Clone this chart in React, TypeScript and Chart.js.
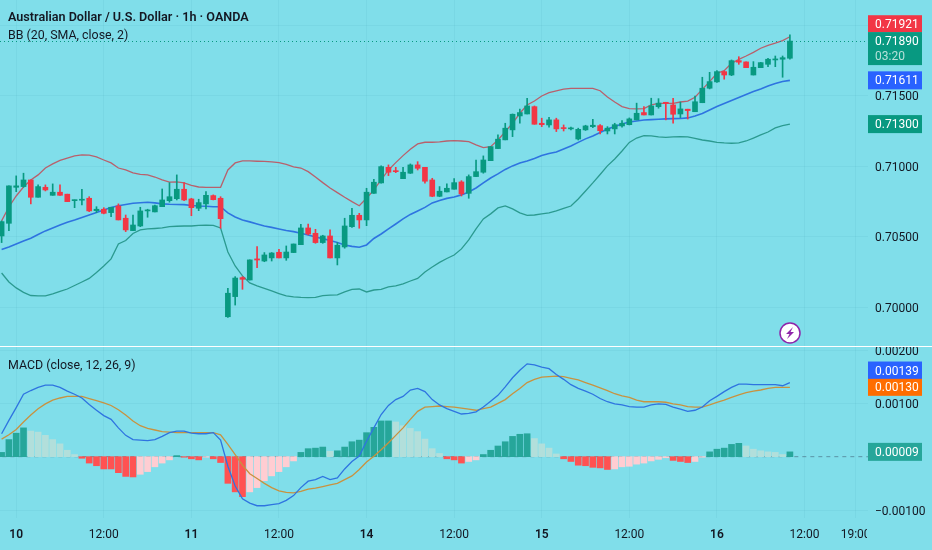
import { useEffect, useRef } from 'react';
import Chart from 'chart.js/auto';

// prices and MACD values are kept in units of 0.00001
const opens = [
  70505,70595,70851,70856,70903,70780,70851,70794,70816,70802,
  70756,70759,70773,70685,70695,70671,70718,70631,70543,70576,
  70683,70676,70713,70756,70770,70837,70768,70702,70733,70792,
  70773,69931,70074,70209,70192,70342,70327,70349,70389,70349,
  70387,70443,70562,70524,70458,70505,70349,70427,70571,70652,
  70619,70808,70882,70993,70969,70912,70951,71010,70993,70903,
  70787,70818,70837,70889,70808,70927,70958,71040,71126,71188,
  71259,71358,71372,71424,71306,71294,71330,71275,71266,71194,
  71259,71282,71289,71251,71266,71287,71296,71330,71382,71365,
  71424,71455,71436,71372,71406,71388,71452,71555,71600,71673,
  71649,71751,71742,71649,71701,71725,71756,71761,71768,
];
const highs = [
  70612,70861,70932,70951,70903,70868,70868,70875,70868,70802,
  70761,70837,70784,70713,70706,70709,70733,70654,70654,70709,
  70695,70725,70839,70884,70939,70884,70773,70766,70820,70797,
  70784,70133,70216,70216,70335,70429,70387,70387,70410,70434,
  70448,70588,70590,70552,70510,70548,70458,70631,70702,70666,
  70844,70908,71003,71010,70993,70993,71017,71033,70993,70915,
  70856,70875,70912,70898,70939,71045,71074,71140,71223,71306,
  71372,71406,71484,71429,71342,71349,71342,71294,71278,71271,
  71292,71334,71296,71282,71306,71325,71344,71449,71424,71484,
  71481,71455,71484,71457,71406,71500,71633,71668,71680,71678,
  71756,71779,71742,71744,71739,71768,71784,71784,71934,
];
const lows = [
  70458,70543,70820,70851,70733,70780,70825,70794,70794,70749,
  70706,70725,70678,70671,70662,70642,70619,70536,70543,70571,
  70638,70676,70713,70745,70761,70756,70649,70685,70697,70761,
  70560,69927,70014,70126,70192,70279,70322,70327,70349,70332,
  70387,70443,70512,70453,70453,70349,70299,70418,70566,70560,
  70578,70808,70880,70934,70955,70912,70949,70974,70880,70784,
  70784,70818,70837,70789,70773,70927,70951,71040,71126,71188,
  71211,71306,71372,71299,71282,71278,71247,71251,71259,71187,
  71255,71275,71230,71230,71230,71278,71294,71330,71365,71365,
  71413,71330,71306,71346,71336,71388,71452,71550,71597,71619,
  71644,71725,71701,71649,71701,71708,71708,71633,71761,
];
const closes = [
  70607,70861,70861,70903,70780,70856,70832,70816,70794,70749,
  70761,70766,70683,70695,70666,70709,70619,70548,70583,70683,
  70690,70720,70761,70784,70837,70761,70706,70742,70794,70763,
  70628,70098,70206,70197,70335,70334,70370,70384,70349,70391,
  70448,70562,70519,70458,70505,70349,70439,70576,70652,70619,
  70816,70887,70998,70958,70962,70958,71010,70986,70894,70787,
  70823,70844,70884,70804,70927,70962,71045,71140,71193,71271,
  71370,71382,71429,71299,71296,71330,71266,71268,71271,71263,
  71287,71292,71253,71271,71296,71306,71337,71377,71365,71429,
  71449,71448,71370,71408,71396,71459,71555,71602,71673,71649,
  71751,71740,71701,71704,71737,71761,71763,71772,71890,
];

const bbUpper = [
  70612,70711,70789,70853,70903,70939,70988,71017,71042,71059,
  71074,71081,71079,71067,71045,71024,70988,70974,70953,70942,
  70939,70924,70903,70887,70889,70882,70864,70853,70851,70851,
  70851,70974,71024,71038,71038,71036,71035,71031,71026,71013,
  70996,70988,70962,70924,70884,70846,70813,70780,70749,70720,
  70773,70832,70903,70974,71026,71076,71121,71159,71171,71171,
  71173,71180,71182,71180,71175,71152,71133,71140,71187,71246,
  71306,71377,71436,71464,71500,71523,71537,71549,71554,71554,
  71554,71554,71537,71493,71457,71424,71410,71408,71410,71436,
  71448,71448,71448,71457,71464,71491,71547,71602,71661,71680,
  71732,71760,71784,71810,71839,71860,71875,71893,71921,
];
const bbBasis = [
  70408,70427,70448,70470,70489,70516,70541,70562,70583,70603,
  70619,70637,70654,70672,70690,70708,70720,70729,70738,70741,
  70745,70740,70733,70730,70729,70728,70722,70718,70716,70713,
  70713,70669,70640,70619,70605,70590,70576,70566,70555,70544,
  70536,70524,70512,70498,70486,70473,70459,70441,70431,70425,
  70441,70487,70519,70555,70590,70626,70658,70683,70708,70740,
  70757,70772,70782,70797,70818,70846,70882,70917,70946,70978,
  71003,71024,71038,71056,71077,71091,71102,71123,71145,71170,
  71195,71216,71241,71265,71283,71301,71315,71322,71329,71332,
  71334,71337,71339,71340,71344,71358,71376,71400,71425,71446,
  71468,71489,71511,71531,71550,71571,71589,71603,71611,
];
const bbLower = [
  70242,70178,70136,70104,70082,70079,70079,70093,70111,70128,
  70153,70178,70203,70246,70292,70342,70448,70473,70523,70548,
  70555,70558,70562,70571,70574,70576,70576,70580,70581,70580,
  70562,70391,70292,70221,70171,70150,70132,70114,70096,70079,
  70072,70068,70067,70068,70081,70084,70086,70107,70125,70128,
  70107,70121,70125,70143,70150,70164,70185,70203,70249,70285,
  70317,70345,70370,70413,70477,70555,70626,70662,70704,70718,
  70697,70669,70652,70654,70662,70669,70683,70701,70718,70768,
  70825,70882,70942,71003,71052,71109,71170,71201,71218,71216,
  71209,71206,71209,71211,71209,71198,71187,71180,71170,71166,
  71164,71166,71180,71201,71223,71244,71273,71290,71300,
];

const macdHist = [
  8,32,44,54,48,46,40,32,24,12,
  4,-3,-12,-17,-23,-23,-30,-37,-38,-33,
  -28,-19,-12,-6,2,-1,-4,-6,-1,-4,
  -11,-50,-66,-75,-66,-58,-45,-36,-28,-19,
  -8,8,15,16,18,10,11,18,28,31,
  45,55,67,67,65,58,53,47,33,15,
  6,-4,-6,-12,-9,-6,4,12,20,28,
  38,42,43,34,24,16,5,-4,-9,-16,
  -17,-20,-21,-24,-23,-19,-18,-14,-12,-8,
  -5,-2,-7,-9,-11,-9,-1,9,14,16,
  23,25,20,14,11,9,8,4,9,
];
const macdLine = [
  43,68,92,117,124,130,134,134,130,123,
  117,110,98,87,77,70,54,40,32,31,
  30,32,38,45,48,48,44,43,43,45,
  31,-18,-55,-79,-87,-92,-92,-90,-88,-82,
  -73,-58,-46,-43,-37,-43,-40,-23,-9,1,
  29,54,79,96,107,113,125,128,122,107,
  97,90,85,80,81,84,93,104,115,131,
  148,162,174,172,168,165,154,145,135,128,
  123,117,109,103,99,97,94,93,93,97,
  99,98,93,89,85,87,93,105,113,122,
  130,136,136,135,135,135,135,133,139,
];
const signalLine = [
  33,41,51,65,78,90,99,106,110,113,
  113,113,109,105,101,96,88,78,67,58,
  53,50,47,46,45,45,45,45,45,45,
  41,23,4,-16,-32,-41,-50,-58,-64,-67,
  -68,-65,-61,-59,-56,-53,-50,-43,-36,-24,
  -10,1,13,26,40,54,70,85,93,94,
  95,94,93,91,89,87,90,93,100,107,
  118,128,139,145,149,150,151,150,147,144,
  139,134,129,124,118,114,111,106,103,103,
  103,102,99,97,94,93,93,97,102,106,
  111,116,120,123,125,128,130,130,130,
];

// one candle per hour, the labels sit on these candle numbers
const timeTicks = [2, 14, 26, 38, 50, 62, 74, 86, 98, 110, 117];
const timeLabels = ['10', '12:00', '11', '12:00', '14', '12:00', '15', '12:00', '16', '12:00', '19:00'];
const priceTicks = [70000, 70500, 71000, 71500, 72000];
const macdTicks = [-100, 100, 200];

const BG = '#80deea';
const INK = '#131722';
const GREEN = '#089981';
const RED = '#f23645';
const GRID = 'rgba(0, 90, 110, 0.05)';
const FONT = 'Roboto, sans-serif';

const fmt = (v: number) => (v / 1e5).toFixed(5).replace('-', '\u2212');
const points = (values: number[]) => values.map((y, x) => ({ x, y }));
const ranges = (a: number[], b: number[]) => a.map((v, x) => ({ x, y: [v, b[x]] }));

const candleColors = opens.map((o, i) => (closes[i] >= o ? GREEN : RED));
const histColors = macdHist.map((v, i) => {
  const prev = i > 0 ? macdHist[i - 1] : v;
  if (v >= 0) return v >= prev ? '#26a69a' : '#b2dfdb';
  return v <= prev ? '#ff5252' : '#ffcdd2';
});

// axis tags, shift moves a tag off its value where it would overlap the next one
const priceTags = [
  { value: 71921, shift: -13, color: RED, height: 17 },
  { value: 71611, shift: 0, color: '#2962ff', height: 18 },
  { value: 71300, shift: 0, color: GREEN, height: 18 },
];
const macdTags = [
  { value: 139, shift: -12, color: '#2962ff', height: 18 },
  { value: 130, shift: 0, color: '#ff6d00', height: 17 },
  { value: 9, shift: 0, color: '#26a69a', height: 18 },
];

// tick labels may overhang the pane, no room is kept for them
const noPadding = (scale: any) => {
  scale.paddingTop = 0;
  scale.paddingBottom = 0;
  scale.paddingLeft = 0;
  scale.paddingRight = 0;
};

const overlay = {
  id: 'overlay',
  afterDraw(chart: any) {
    const { ctx, scales, width } = chart;
    const right = chart.chartArea.right;
    ctx.save();

    // hide what runs past the time axis end
    ctx.fillStyle = BG;
    ctx.fillRect(right - 1, chart.chartArea.bottom + 1, width, 40);

    // last price line
    const lastY = scales.y.getPixelForValue(closes[closes.length - 1]);
    ctx.strokeStyle = GREEN;
    ctx.lineWidth = 1;
    ctx.setLineDash([1, 3]);
    ctx.beginPath();
    ctx.moveTo(0, Math.round(lastY) + 0.5);
    ctx.lineTo(right, Math.round(lastY) + 0.5);
    ctx.stroke();
    ctx.setLineDash([]);

    // pane separator
    ctx.fillStyle = '#ffffff';
    ctx.fillRect(0, scales.y.bottom, width, 1);

    // titles
    ctx.textBaseline = 'middle';
    ctx.textAlign = 'left';
    ctx.fillStyle = INK;
    ctx.font = `600 12.6px ${FONT}`;
    ctx.fillText('Australian Dollar / U.S. Dollar \u00b7 1h \u00b7 OANDA', 8, 18);
    ctx.font = `12.4px ${FONT}`;
    ctx.fillText('BB (20, SMA, close, 2)', 8, 36);
    ctx.fillText('MACD (close, 12, 26, 9)', 8, 366);

    // axis tags
    const drawTag = (tag: any, scale: any) => {
      const y = scale.getPixelForValue(tag.value) + tag.shift;
      ctx.fillStyle = tag.color;
      ctx.fillRect(right, y - tag.height / 2, 54, tag.height);
      ctx.fillStyle = '#ffffff';
      ctx.font = `12px ${FONT}`;
      ctx.fillText(fmt(tag.value), right + 7, y + 1);
    };
    priceTags.forEach((t) => drawTag(t, scales.y));
    macdTags.forEach((t) => drawTag(t, scales.y2));

    // last price tag with the countdown
    ctx.fillStyle = GREEN;
    ctx.fillRect(right, lastY - 9, 54, 33);
    ctx.fillStyle = '#ffffff';
    ctx.font = `12px ${FONT}`;
    ctx.fillText(fmt(closes[closes.length - 1]), right + 7, lastY + 1);
    ctx.fillStyle = 'rgba(255, 255, 255, 0.7)';
    ctx.fillText('03:20', right + 7, lastY + 16);

    // lightning badge
    const bx = 790;
    const by = 333;
    ctx.beginPath();
    ctx.arc(bx, by, 10, 0, Math.PI * 2);
    ctx.fillStyle = '#ffffff';
    ctx.fill();
    ctx.strokeStyle = '#8e24aa';
    ctx.lineWidth = 1.5;
    ctx.stroke();
    ctx.fillStyle = '#8e24aa';
    ctx.beginPath();
    ctx.moveTo(bx + 3, by - 6);
    ctx.lineTo(bx - 4, by + 1);
    ctx.lineTo(bx - 0.5, by + 1);
    ctx.lineTo(bx - 3, by + 6);
    ctx.lineTo(bx + 4, by - 1);
    ctx.lineTo(bx + 0.5, by - 1);
    ctx.closePath();
    ctx.fill();

    ctx.restore();
  },
};

export default function App() {
  const canvasRef = useRef<HTMLCanvasElement>(null);

  useEffect(() => {
    if (!canvasRef.current) return;
    document.body.style.margin = '0';
    document.body.style.background = BG;

    const line = (label: string, values: number[], color: string, yAxisID: string, width = 1.3) => ({
      type: 'line' as const,
      label,
      data: points(values),
      borderColor: color,
      borderWidth: width,
      pointRadius: 0,
      tension: 0,
      yAxisID,
      order: 3,
    });

    const chart = new Chart(canvasRef.current, {
      type: 'bar',
      data: {
        datasets: [
          line('BB upper', bbUpper, '#b8606c', 'y'),
          line('BB lower', bbLower, '#2b9a90', 'y'),
          line('BB basis', bbBasis, '#2e74e0', 'y', 1.6),
          {
            label: 'Wicks',
            data: ranges(lows, highs),
            backgroundColor: candleColors,
            barThickness: 1,
            yAxisID: 'y',
            order: 2,
          },
          {
            label: 'Bodies',
            data: ranges(opens, closes),
            backgroundColor: candleColors,
            barThickness: 5,
            minBarLength: 1,
            yAxisID: 'y',
            order: 1,
          },
          {
            label: 'Histogram',
            data: points(macdHist),
            backgroundColor: histColors,
            barThickness: 6,
            yAxisID: 'y2',
            order: 4,
          },
          {
            ...line('Zero', [0, 0], 'rgba(60, 90, 110, 0.55)', 'y2', 1),
            data: [
              { x: -1, y: 0 },
              { x: 119, y: 0 },
            ],
            borderDash: [4, 4],
            order: 5,
          },
          line('MACD', macdLine, '#2e74e0', 'y2'),
          line('Signal', signalLine, '#c8923f', 'y2'),
        ] as any,
      },
      options: {
        responsive: false,
        animation: false,
        events: [],
        layout: { padding: 0 },
        datasets: { bar: { grouped: false } },
        plugins: { legend: { display: false }, tooltip: { enabled: false } },
        scales: {
          x: {
            type: 'linear',
            min: -0.22,
            max: 118.7,
            offset: false,
            grid: { color: GRID, offset: false, drawTicks: false },
            border: { display: false },
            afterBuildTicks: (scale: any) => {
              scale.ticks = timeTicks.map((value) => ({ value }));
            },
            afterFit: (scale: any) => {
              scale.height = 32;
              noPadding(scale);
            },
            ticks: {
              autoSkip: false,
              maxRotation: 0,
              padding: 10,
              color: INK,
              font: (ctx: any) => ({
                family: FONT,
                size: 12,
                weight: timeLabels[timeTicks.indexOf(ctx.tick?.value)]?.includes(':') ? 400 : 600,
              }),
              callback: (v: any) => timeLabels[timeTicks.indexOf(v)] ?? '',
            },
          },
          y: {
            position: 'right',
            stack: 'panes',
            stackWeight: 346,
            min: 69723,
            max: 72182,
            grid: { color: GRID, drawTicks: false },
            border: { display: false },
            afterBuildTicks: (scale: any) => {
              scale.ticks = priceTicks.map((value) => ({ value }));
            },
            afterFit: (scale: any) => {
              scale.width = 64;
              noPadding(scale);
            },
            ticks: {
              padding: 7,
              labelOffset: 1.5,
              color: INK,
              font: { family: FONT, size: 12 },
              callback: (v: any) => fmt(v),
            },
          },
          y2: {
            position: 'right',
            stack: 'panes',
            stackWeight: 172,
            min: -115,
            max: 207.5,
            grid: { color: GRID, drawTicks: false },
            border: { display: false },
            afterBuildTicks: (scale: any) => {
              scale.ticks = macdTicks.map((value) => ({ value }));
            },
            afterFit: (scale: any) => {
              scale.width = 64;
              noPadding(scale);
            },
            ticks: {
              padding: 7,
              labelOffset: 1.5,
              color: INK,
              font: { family: FONT, size: 12 },
              callback: (v: any) => fmt(v),
            },
          },
        },
      } as any,
      plugins: [overlay],
    });

    return () => chart.destroy();
  }, []);

  return (
    <div style={{ width: 932, height: 550, background: BG, overflow: 'hidden' }}>
      <canvas ref={canvasRef} width={932} height={550} style={{ display: 'block' }} />
    </div>
  );
}
